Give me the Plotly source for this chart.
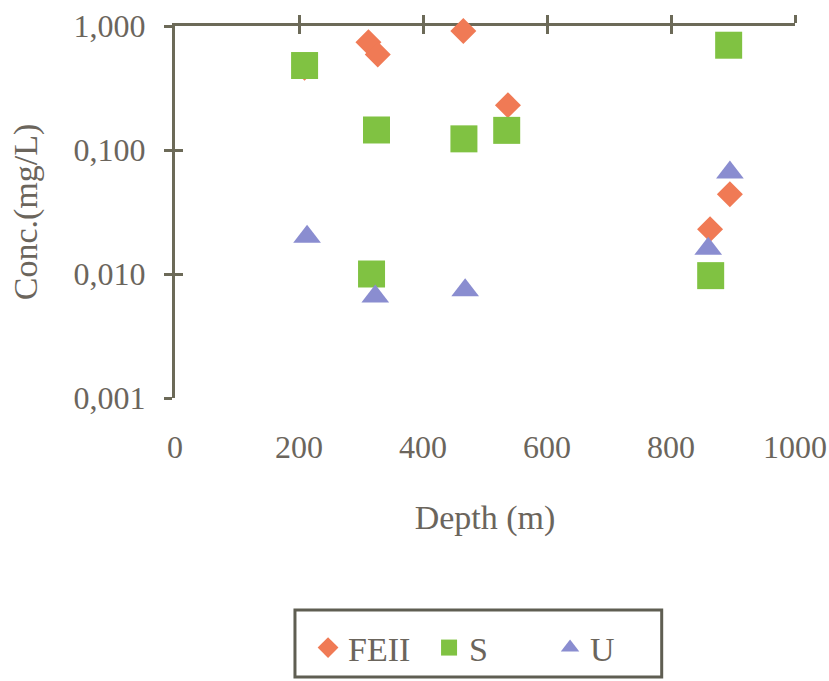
import plotly.graph_objects as go

# ---- data ----
feii_depth = [209, 312, 327, 465, 537, 863, 895]
feii_conc = [0.46, 0.74, 0.59, 0.91, 0.23, 0.023, 0.044]

s_depth = [209, 325, 466, 535, 317, 864, 893]
s_conc = [0.48, 0.145, 0.123, 0.144, 0.0100, 0.0097, 0.70]

u_depth = [213, 323, 468, 860, 895]
u_conc = [0.020, 0.0066, 0.0074, 0.0160, 0.066]

x_ticks = [0, 200, 400, 600, 800, 1000]
x_ticktext = ["0", "200", "400", "600", "800", "1000"]
y_ticks = [0.001, 0.01, 0.1, 1]
y_ticktext = ["0,001", "0,010", "0,100", "1,000"]

TXT = "#6b655c"
AX = "#6c6a58"
FONT = "Liberation Serif"
TICK_SIZE = 32
TITLE_SIZE = 34

fig = go.Figure()
fig.add_trace(go.Scatter(x=feii_depth, y=feii_conc, mode="markers", name="FEII",
                         marker=dict(symbol="diamond", size=20, color="#f07a55"),
                         cliponaxis=False))
fig.add_trace(go.Scatter(x=s_depth, y=s_conc, mode="markers", name="S",
                         marker=dict(symbol="square", size=27, color="#80c242"),
                         cliponaxis=False))
fig.add_trace(go.Scatter(x=u_depth, y=u_conc, mode="markers", name="U",
                         marker=dict(symbol="triangle-up", size=24, color="#8a8dd0"),
                         cliponaxis=False))
# empty helper traces so the overlay axes (crossing ticks) are rendered
fig.add_trace(go.Scatter(x=[], y=[], xaxis="x2", yaxis="y", showlegend=False, hoverinfo="skip"))
fig.add_trace(go.Scatter(x=[], y=[], xaxis="x3", yaxis="y", showlegend=False, hoverinfo="skip"))
fig.add_trace(go.Scatter(x=[], y=[], xaxis="x", yaxis="y2", showlegend=False, hoverinfo="skip"))

common_x = dict(range=[0, 1000], showgrid=False, zeroline=False, automargin=False)
common_y = dict(type="log", range=[-3, 0], showgrid=False, zeroline=False, automargin=False)

fig.update_layout(
    width=829, height=681,
    margin=dict(l=175, r=34, t=26, b=283),
    paper_bgcolor="white", plot_bgcolor="white",
    font=dict(family=FONT, size=TICK_SIZE, color=TXT),
    xaxis=dict(**common_x, tickvals=x_ticks, ticktext=x_ticktext, ticks="",
               showline=False, ticklabelstandoff=27, layer="below traces",
               tickfont=dict(family=FONT, size=TICK_SIZE, color=TXT),
               title=dict(text="Depth (m)", standoff=41,
                          font=dict(family=FONT, size=TITLE_SIZE, color=TXT))),
    xaxis2=dict(**common_x, overlaying="x", anchor="y", side="top",
                tickvals=x_ticks[1:], ticks="outside", ticklen=8, tickwidth=3,
                tickcolor=AX, showline=True, linewidth=3, linecolor=AX,
                showticklabels=False, layer="below traces"),
    xaxis3=dict(**common_x, overlaying="x", anchor="y", side="top",
                tickvals=x_ticks[1:], ticks="inside", ticklen=8, tickwidth=3,
                tickcolor=AX, showline=False, showticklabels=False,
                layer="below traces"),
    yaxis=dict(**common_y, tickvals=y_ticks, ticktext=y_ticktext,
               ticks="outside", ticklen=8, tickwidth=3, tickcolor=AX,
               showline=True, linewidth=3, linecolor=AX, ticklabelstandoff=12,
               layer="below traces",
               tickfont=dict(family=FONT, size=TICK_SIZE, color=TXT),
               title=dict(text="Conc.(mg/L)", standoff=26,
                          font=dict(family=FONT, size=TITLE_SIZE, color=TXT))),
    yaxis2=dict(**common_y, overlaying="y", anchor="x", side="left",
                tickvals=y_ticks[:3], ticks="inside", ticklen=8, tickwidth=3,
                tickcolor=AX, showline=False, showticklabels=False,
                layer="below traces"),
    legend=dict(orientation="h", x=0.3716, y=0.0485, xanchor="left", yanchor="middle",
                xref="container", yref="container", entrywidth=76, entrywidthmode="pixels",
                bgcolor="rgba(0,0,0,0)", borderwidth=0,
                font=dict(family=FONT, size=TITLE_SIZE, color=TXT)),
    shapes=[dict(type="rect", xref="paper", yref="paper",
                 x0=0.1935, x1=0.785, y0=-0.75, y1=-0.57,
                 line=dict(color="#5f5e52", width=3), fillcolor="rgba(0,0,0,0)")],
)

fig.write_html("out.html")
